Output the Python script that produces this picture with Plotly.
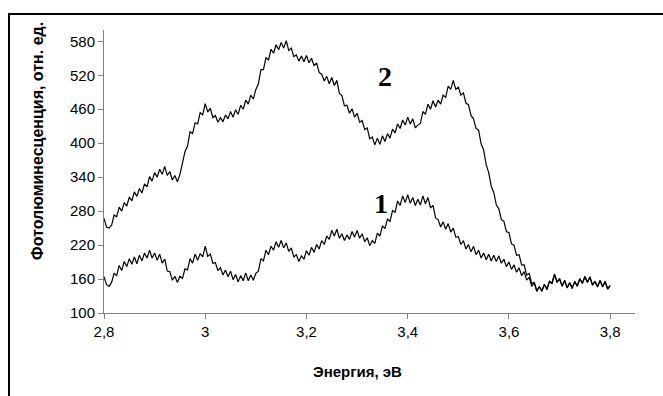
import plotly.graph_objects as go

# Photon energy grid, eV (2.80 ... 3.80, step 0.005)
energy = [round(2.8 + 0.005 * i, 3) for i in range(201)]

# Curve 1 (lower), rows of 0.1 eV
curve1 = [
    164, 150, 147, 154, 170, 166, 184, 175, 191, 182, 196, 186, 199, 187, 202, 192, 206, 197, 211, 197,
    206, 193, 204, 188, 195, 174, 173, 158, 165, 154, 165, 161, 178, 176, 196, 188, 204, 193, 205, 199,
    218, 200, 204, 188, 189, 175, 180, 167, 176, 164, 174, 159, 168, 155, 166, 157, 171, 157, 167, 158,
    170, 174, 196, 192, 211, 203, 218, 211, 226, 216, 228, 215, 224, 209, 215, 199, 203, 191, 201, 195,
    210, 202, 216, 207, 221, 213, 228, 221, 236, 230, 246, 236, 248, 232, 240, 228, 238, 230, 244, 234,
    246, 232, 240, 226, 233, 219, 228, 223, 241, 236, 254, 249, 266, 262, 281, 278, 298, 290, 307, 295,
    309, 294, 304, 290, 301, 291, 307, 293, 304, 286, 290, 268, 265, 252, 261, 248, 258, 243, 250, 234,
    235, 221, 228, 213, 221, 208, 218, 203, 211, 197, 206, 194, 204, 192, 202, 191, 201, 188, 195, 182,
    190, 177, 185, 172, 180, 166, 173, 158, 163, 147, 153, 138, 147, 138, 151, 141, 156, 153, 169, 154,
    161, 147, 158, 144, 154, 143, 156, 147, 161, 152, 165, 154, 164, 149, 156, 146, 158, 146, 156, 142,
    148,
]

# Curve 2 (upper), rows of 0.1 eV
curve2 = [
    267, 252, 250, 255, 273, 270, 287, 280, 295, 289, 305, 298, 314, 306, 320, 312, 328, 323, 341, 333,
    348, 340, 354, 345, 359, 343, 350, 335, 343, 332, 345, 365, 385, 395, 420, 417, 436, 434, 454, 450,
    470, 455, 462, 445, 449, 437, 445, 438, 450, 443, 456, 446, 459, 451, 467, 460, 476, 469, 485, 478,
    495, 505, 530, 530, 551, 547, 566, 559, 574, 565, 578, 568, 581, 564, 568, 553, 556, 545, 554, 544,
    555, 542, 550, 537, 542, 525, 522, 510, 518, 505, 516, 502, 511, 488, 484, 466, 467, 453, 461, 446,
    453, 437, 440, 424, 427, 408, 411, 397, 409, 398, 413, 403, 417, 409, 425, 418, 434, 426, 441, 432,
    446, 434, 443, 427, 432, 435, 456, 451, 469, 460, 475, 464, 476, 469, 485, 481, 501, 495, 511, 495,
    499, 485, 489, 471, 468, 449, 443, 426, 423, 399, 388, 362, 348, 324, 313, 291, 284, 265, 262, 244,
    242, 222, 220, 202, 203, 185, 185, 167, 170, 152, 154, 140, 146, 140, 150, 143, 155, 152, 167, 155,
    160, 148, 157, 145, 153, 145, 155, 148, 160, 153, 163, 155, 163, 150, 155, 147, 157, 147, 155, 143,
    149,
]

x_ticks = [2.8, 3.0, 3.2, 3.4, 3.6, 3.8]
x_tick_text = ["2,8", "3", "3,2", "3,4", "3,6", "3,8"]
y_ticks = [100, 160, 220, 280, 340, 400, 460, 520, 580]

curve_labels = ["1", "2"]
label_pos_x = [3.347, 3.355]
label_pos_y = [294, 518]

W, H = 663, 396
L, R, T, B = 104, 28, 30, 83
pw, ph = W - L - R, H - T - B

fig = go.Figure()
for ys in (curve1, curve2):
    fig.add_trace(go.Scatter(x=energy, y=ys, mode="lines",
                             line=dict(color="black", width=1.2),
                             showlegend=False, hoverinfo="skip"))

sans = "Liberation Sans, Arial, sans-serif"
axis_font = dict(family=sans, size=15, color="black")

fig.update_layout(
    width=W, height=H,
    margin=dict(l=L, r=R, t=T, b=B, pad=0),
    paper_bgcolor="white", plot_bgcolor="white",
    xaxis=dict(range=[2.8, 3.849], tickvals=x_ticks, ticktext=x_tick_text,
               ticks="outside", ticklen=5, tickcolor="#808080",
               showline=True, linecolor="#808080", linewidth=1,
               showgrid=False, zeroline=False, tickfont=axis_font),
    yaxis=dict(range=[100, 600], tickvals=y_ticks,
               ticks="outside", ticklen=5, tickcolor="#808080",
               showline=True, linecolor="#808080", linewidth=1,
               showgrid=False, zeroline=False, tickfont=axis_font),
)

def px_x(p):
    return (p - L) / pw

def px_y(p):
    return (H - B - p) / ph

# axis titles
fig.add_annotation(text="<b>Энергия, эВ</b>", xref="paper", yref="paper",
                   x=px_x(357), y=px_y(371), showarrow=False,
                   xanchor="center", yanchor="middle",
                   font=dict(family=sans, size=15, color="black"))
fig.add_annotation(text="<b>Фотолюминесценция, отн. ед.</b>", xref="paper", yref="paper",
                   x=px_x(37), y=px_y(141), showarrow=False, textangle=-90,
                   xanchor="center", yanchor="middle",
                   font=dict(family=sans, size=16, color="black"))

# curve numbers
for t, xv, yv in zip(curve_labels, label_pos_x, label_pos_y):
    fig.add_annotation(text="<b>%s</b>" % t, x=xv, y=yv, xref="x", yref="y",
                       showarrow=False, xanchor="center", yanchor="middle",
                       font=dict(family="Liberation Serif, Times New Roman, serif", size=28, color="black"))

# chart-area frame
fig.add_shape(type="rect", xref="paper", yref="paper",
              x0=px_x(9), x1=px_x(720), y0=px_y(450), y1=px_y(14),
              line=dict(color="black", width=2), fillcolor="rgba(0,0,0,0)", layer="below")

fig.write_html("out.html")
